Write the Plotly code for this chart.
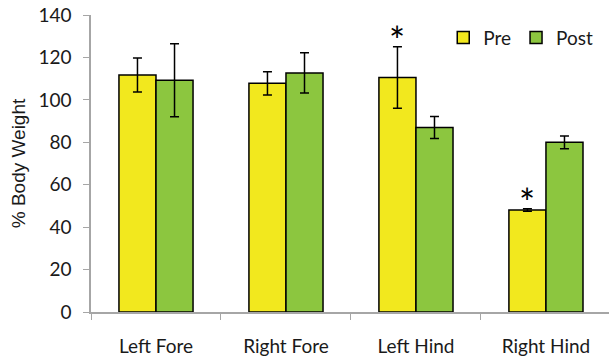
import plotly.graph_objects as go

categories = ["Left Fore", "Right Fore", "Left Hind", "Right Hind"]
pre_values = [111.7, 107.8, 110.5, 48.1]
pre_err = [8.0, 5.5, 14.5, 0.6]
post_values = [109.2, 112.7, 87.0, 80.0]
post_err = [17.2, 9.5, 5.2, 3.0]
pre_significant = [False, False, True, True]
y_ticks = [0, 20, 40, 60, 80, 100, 120, 140]

PRE_COLOR = "#F2E81E"
POST_COLOR = "#8CC63F"
FONT = "Lato"
TEXT = "#1a1a1a"

fig = go.Figure()
fig.add_trace(go.Bar(
    name="Pre", x=categories, y=pre_values,
    marker=dict(color=PRE_COLOR, line=dict(color="black", width=1.5)),
    error_y=dict(type="data", array=pre_err, color="black", thickness=1.5, width=4.5),
))
fig.add_trace(go.Bar(
    name="Post", x=categories, y=post_values,
    marker=dict(color=POST_COLOR, line=dict(color="black", width=1.5)),
    error_y=dict(type="data", array=post_err, color="black", thickness=1.5, width=4.5),
))

bargap = 0.43
offset = (1 - bargap) / 4
for i, sig in enumerate(pre_significant):
    if sig:
        fig.add_annotation(
            x=i - offset, y=pre_values[i] + pre_err[i], xref="x", yref="y",
            text="*", showarrow=False, yanchor="bottom", yshift=-18,
            font=dict(family=FONT, size=38, color="black"),
        )

fig.update_layout(
    width=609, height=360,
    margin=dict(l=91, r=0, t=15, b=48),
    paper_bgcolor="white", plot_bgcolor="white",
    barmode="group", bargap=bargap, bargroupgap=0,
    font=dict(family=FONT, size=19, color=TEXT),
    showlegend=True,
    legend=dict(orientation="h", x=0.68, y=0.988, xanchor="left", yanchor="top",
                font=dict(family=FONT, size=19, color=TEXT),
                bgcolor="rgba(0,0,0,0)", itemwidth=30),
    xaxis=dict(
        type="category", range=[-0.5, 3.485], automargin=False,
        showline=True, linecolor="#A6A6A6", linewidth=1.5,
        ticks="outside", tickson="boundaries", ticklen=6, tickcolor="#A6A6A6",
        tickfont=dict(family=FONT, size=19, color=TEXT), ticklabelstandoff=16,
        showgrid=False, zeroline=False,
    ),
    yaxis=dict(
        range=[0, 140], tickvals=y_ticks, automargin=False,
        showline=True, linecolor="#A6A6A6", linewidth=1.5,
        ticks="outside", ticklen=6, tickcolor="#A6A6A6",
        tickfont=dict(family=FONT, size=19, color=TEXT), ticklabelstandoff=8,
        showgrid=False, zeroline=False,
        title=dict(text="% Body Weight", font=dict(family="Liberation Sans", size=19, color=TEXT), standoff=8),
    ),
)

fig.write_html("out.html", config={"displayModeBar": False},
               post_script="document.body.style.margin='0';")
